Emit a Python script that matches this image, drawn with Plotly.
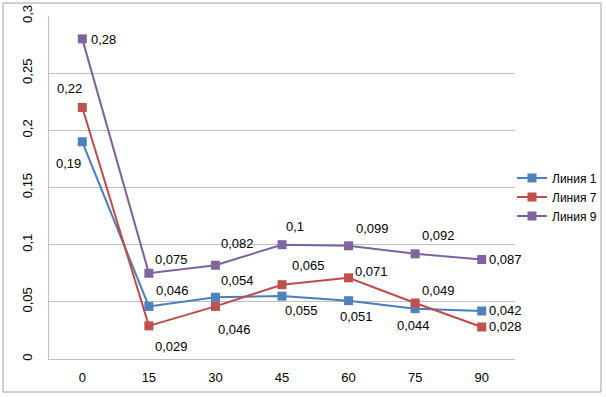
import plotly.graph_objects as go

categories = ["0", "15", "30", "45", "60", "75", "90"]
series_names = ["Линия 1", "Линия 7", "Линия 9"]
line1 = [0.19, 0.046, 0.054, 0.055, 0.051, 0.044, 0.042]
line7 = [0.22, 0.029, 0.046, 0.065, 0.071, 0.049, 0.028]
line9 = [0.28, 0.075, 0.082, 0.1, 0.099, 0.092, 0.087]
y_ticks = [0, 0.05, 0.1, 0.15, 0.2, 0.25, 0.3]
y_tick_labels = ["0", "0,05", "0,1", "0,15", "0,2", "0,25", "0,3"]

colors = ["#4A7EBB", "#BE4B48", "#7D60A0"]
marker_colors = ["#4F81BD", "#C0504D", "#8064A2"]

# label offsets (pixels) for data labels: (xshift, yshift)
offsets = [
    [(-14, -22), (24, 16), (22, 17), (19, -14), (8, -16), (-2, -17), (24, 0)],
    [(-13, 19), (23, -21), (19, -23), (26, 19), (23, 6), (23, 12), (24, 0)],
    [(21, -1), (23, 14), (22, 22), (13, 18), (24, 17), (23, 18), (24, 0)],
]

FONT = "Liberation Sans"
fig = go.Figure()
all_series = [line1, line7, line9]
for i, (name, vals) in enumerate(zip(series_names, all_series)):
    fig.add_trace(go.Scatter(
        x=categories, y=vals, name=name, mode="lines+markers",
        line=dict(color=colors[i], width=2),
        marker=dict(symbol="square", size=9, color=marker_colors[i]),
    ))
    for j, v in enumerate(vals):
        fig.add_annotation(
            x=j, y=v, text=str(v).replace(".", ","),
            showarrow=False, xshift=offsets[i][j][0], yshift=offsets[i][j][1],
            font=dict(family=FONT, size=13, color="#000000"),
        )

W, H = 606, 397
L, R, T, B = 49, 91, 16, 38
pw, ph = W - L - R, H - T - B

def px_x(p):
    return (p - L) / pw

def px_y(p):
    return 1 - (p - T) / ph

fig.add_shape(type="rect", xref="paper", yref="paper",
              x0=px_x(3), x1=px_x(601), y0=px_y(392), y1=px_y(3),
              line=dict(color="#A0A0A0", width=1), layer="below")

fig.update_layout(
    width=W, height=H,
    margin=dict(l=L, r=R, t=T, b=B, autoexpand=False),
    paper_bgcolor="white", plot_bgcolor="white",
    font=dict(family=FONT, size=13, color="#000000"),
    separators=", ",
    showlegend=True,
    legend=dict(x=px_x(512), y=px_y(197), xanchor="left", yanchor="middle",
                font=dict(family=FONT, size=12), itemwidth=30,
                tracegroupgap=0, bgcolor="rgba(0,0,0,0)"),
    xaxis=dict(type="category", range=[-0.5, 6.5], showgrid=False,
               showline=True, linecolor="#BFBFBF", linewidth=1,
               ticks="", tickfont=dict(family=FONT, size=13), zeroline=False,
               ticklabelstandoff=6, automargin=False),
    yaxis=dict(range=[0, 0.3], tickvals=y_ticks, ticktext=y_tick_labels,
               tickangle=-90, showgrid=True, gridcolor="#BFBFBF", gridwidth=1,
               showline=True, linecolor="#BFBFBF", linewidth=1,
               ticks="", tickfont=dict(family=FONT, size=13), zeroline=False,
               ticklabelstandoff=11, automargin=False),
)

fig.write_html("out.html", config={"displayModeBar": False},
               post_script="document.body.style.margin='0';document.body.style.overflow='hidden';")
